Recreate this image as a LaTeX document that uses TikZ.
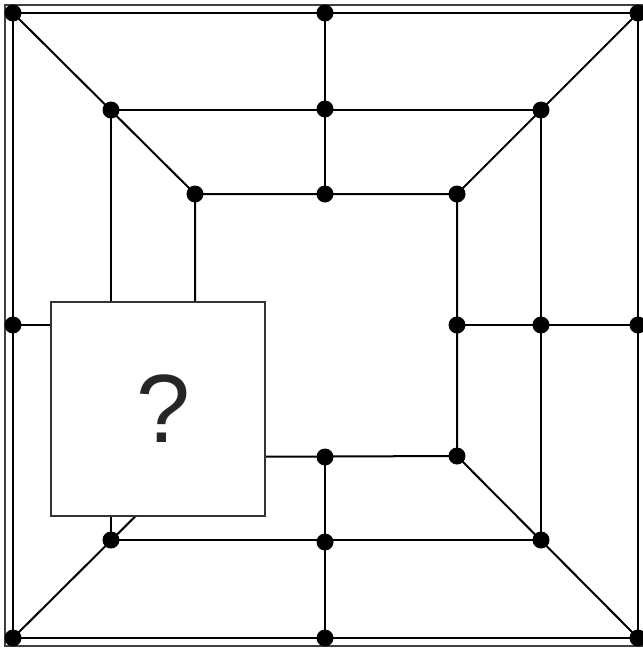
\documentclass[tikz,border=0pt]{standalone}
\usepackage{fontspec}
\setmainfont{Liberation Sans}
\begin{document}
\begin{tikzpicture}[x=1pt,y=-1pt,
  dot/.style={circle,fill=black,inner sep=0pt,minimum size=17pt},
  ln/.style={line width=2pt,black},
  hidebox/.style={draw=black!80,line width=2.5pt,fill=white,minimum width=214pt,minimum height=214pt,inner sep=0pt,text=black!85}]
\useasboundingbox (0,0) rectangle (643,649);
\draw[black!75,line width=2pt] (5,5) rectangle (646,646);
% outer ring
\node[dot] (o1) at (13,13) {};
\node[dot] (o2) at (325,13) {};
\node[dot] (o3) at (638,13) {};
\node[dot] (o4) at (638,325) {};
\node[dot] (o5) at (638,638) {};
\node[dot] (o6) at (325,638) {};
\node[dot] (o7) at (13,638) {};
\node[dot] (o8) at (13,325) {};
% middle ring
\node[dot] (m1) at (111,110) {};
\node[dot] (m2) at (325,109) {};
\node[dot] (m3) at (541,110) {};
\node[dot] (m4) at (541,325) {};
\node[dot] (m5) at (541,540) {};
\node[dot] (m6) at (325,542) {};
\node[dot] (m7) at (111,540) {};
\node[dot] (m8) at (111,325) {};
% inner ring
\node[dot] (i1) at (195,194) {};
\node[dot] (i2) at (325,194) {};
\node[dot] (i3) at (457,194) {};
\node[dot] (i4) at (457,325) {};
\node[dot] (i5) at (457,456) {};
\node[dot] (i6) at (325,457) {};
\node[dot] (i7) at (195,457) {};
\node[dot] (i8) at (195,325) {};
\draw[ln] (o1.center) -- (o3.center) -- (o5.center) -- (o7.center) -- cycle;
\draw[ln] (m1.center) -- (m3.center) -- (m5.center) -- (m7.center) -- cycle;
\draw[ln] (i1.center) -- (i3.center) -- (i5.center) -- (i7.center) -- cycle;
\draw[ln] (o1.center) -- (i1.center);
\draw[ln] (o3.center) -- (i3.center);
\draw[ln] (o5.center) -- (i5.center);
\draw[ln] (o7.center) -- (i7.center);
\draw[ln] (o2.center) -- (i2.center);
\draw[ln] (o4.center) -- (i4.center);
\draw[ln] (o6.center) -- (i6.center);
\draw[ln] (o8.center) -- (i8.center);
\node[hidebox,font=\fontsize{97}{97}\selectfont] (q) at (158,409) {\hspace*{10pt}?};
\end{tikzpicture}
\end{document}
